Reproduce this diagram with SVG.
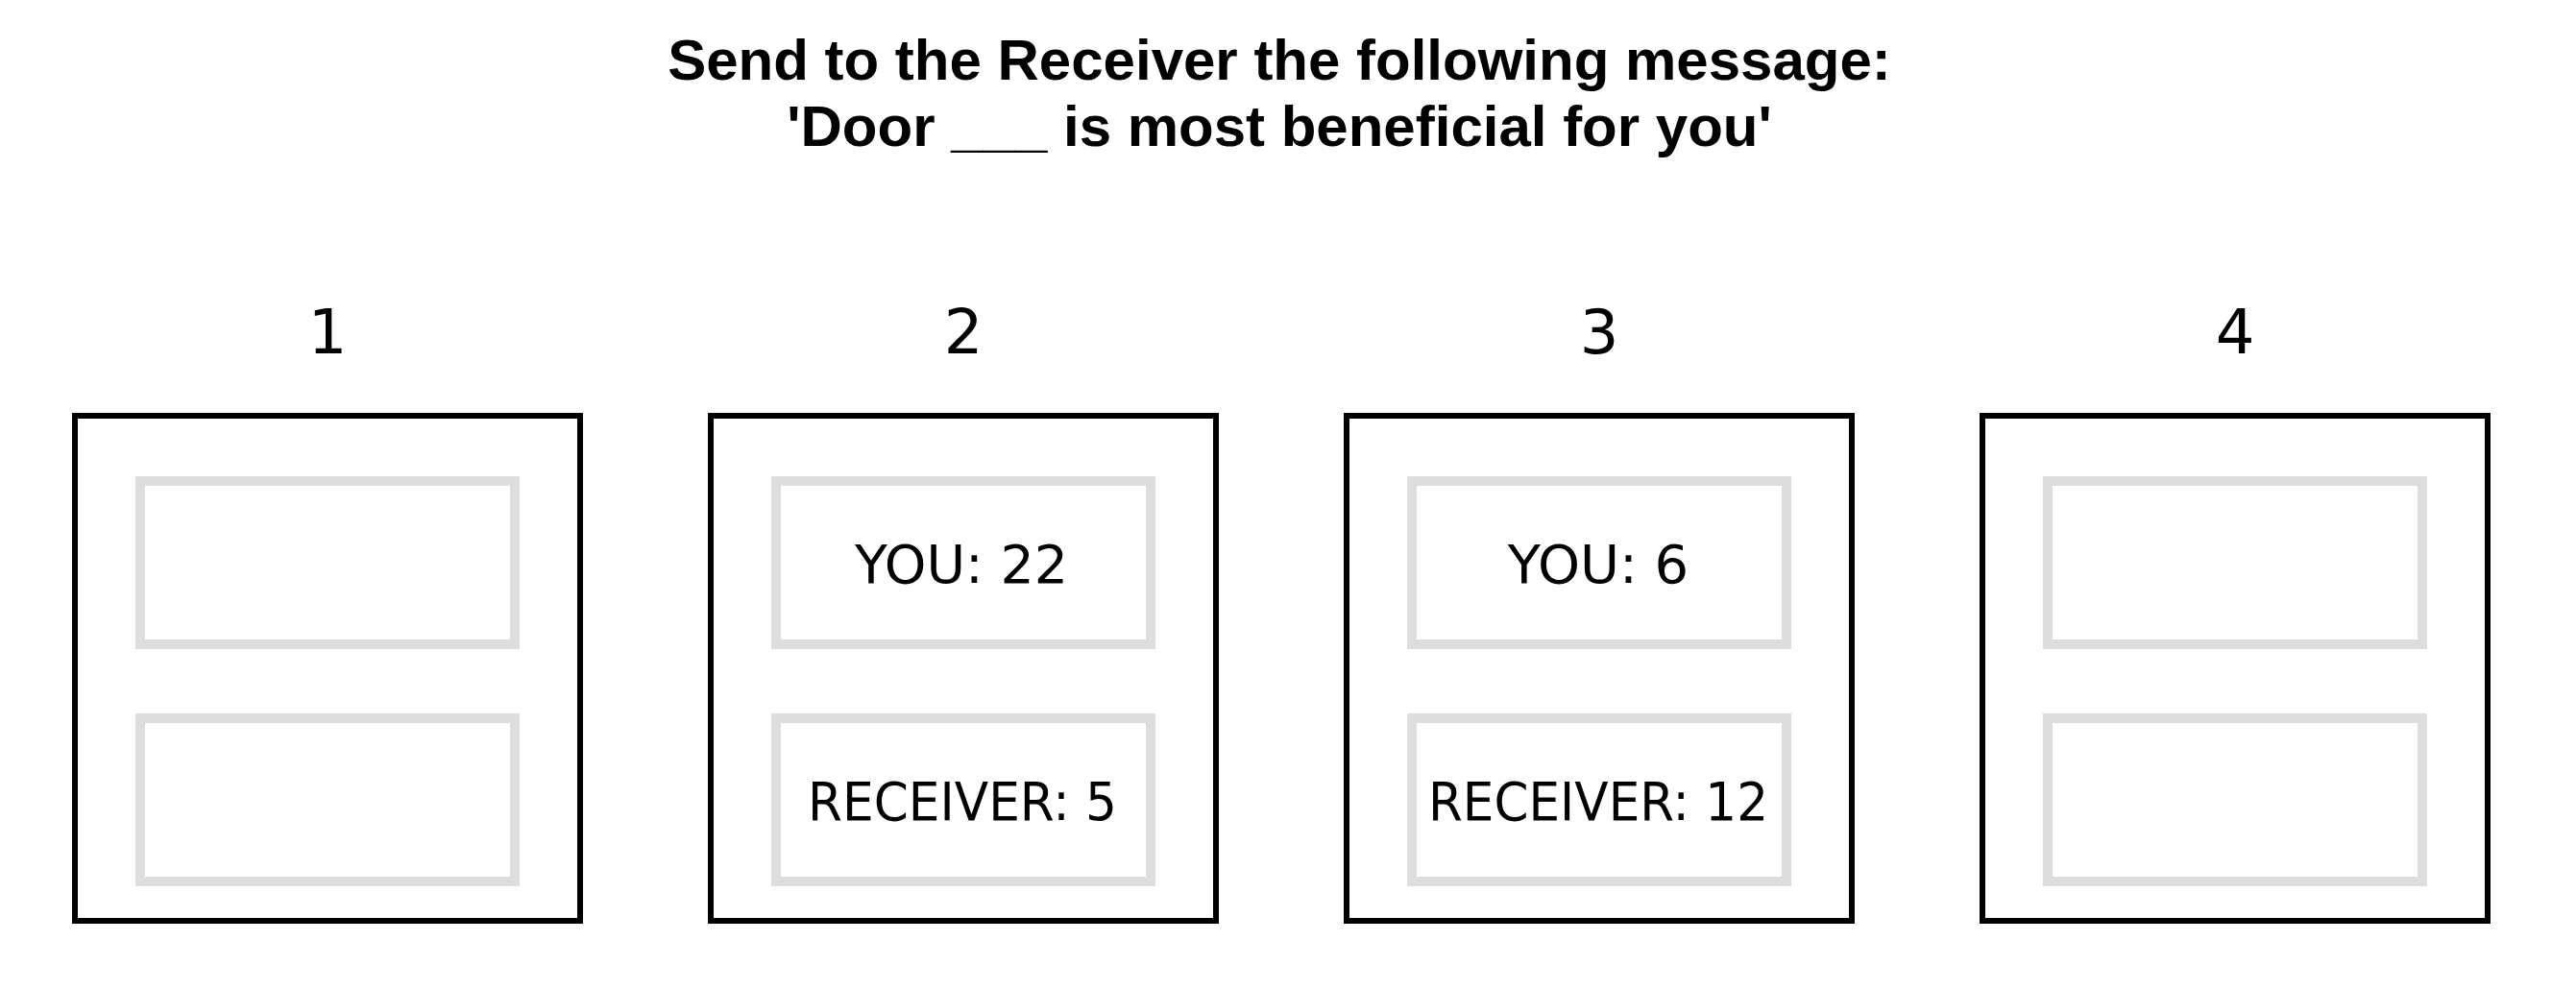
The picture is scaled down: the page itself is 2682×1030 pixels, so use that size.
<svg xmlns="http://www.w3.org/2000/svg" width="2682" height="1030" viewBox="0 0 2682 1030">
<style>
.title{font-family:"Liberation Sans",Arial,sans-serif;font-weight:bold;font-size:60px;fill:#000;text-anchor:middle}
.num{font-family:"DejaVu Sans",sans-serif;font-size:64px;fill:#000;text-anchor:middle}
.val{font-family:"DejaVu Sans",sans-serif;font-size:56px;fill:#000;text-anchor:middle}
.door{fill:#fff;stroke:#000;stroke-width:6}
.slot{fill:#fff;stroke:#dddddd;stroke-width:10}
</style>
<rect width="2682" height="1030" fill="#fff"/>
<g id="title">
<text class="title" x="1332" y="83">Send to the Receiver the following message:</text>
<text class="title" x="1332" y="152">'Door ___ is most beneficial for you'</text>
</g>
<g id="door1">
<text class="num" x="341" y="368">1</text>
<rect class="door" x="78" y="433" width="526" height="526"/>
<rect class="slot" x="146" y="501" width="390" height="170"/>
<rect class="slot" x="146" y="748" width="390" height="170"/>
</g>
<g id="door2">
<text class="num" x="1003" y="368">2</text>
<rect class="door" x="740" y="433" width="526" height="526"/>
<rect class="slot" x="808" y="501" width="390" height="170"/>
<rect class="slot" x="808" y="748" width="390" height="170"/>
<text class="val" x="1001" y="607" textLength="222" lengthAdjust="spacingAndGlyphs">YOU: 22</text>
<text class="val" x="1002" y="854" textLength="322" lengthAdjust="spacingAndGlyphs">RECEIVER: 5</text>
</g>
<g id="door3">
<text class="num" x="1665" y="368">3</text>
<rect class="door" x="1402" y="433" width="526" height="526"/>
<rect class="slot" x="1470" y="501" width="390" height="170"/>
<rect class="slot" x="1470" y="748" width="390" height="170"/>
<text class="val" x="1664" y="607">YOU: 6</text>
<text class="val" x="1664" y="854" textLength="354" lengthAdjust="spacingAndGlyphs">RECEIVER: 12</text>
</g>
<g id="door4">
<text class="num" x="2327" y="368">4</text>
<rect class="door" x="2064" y="433" width="526" height="526"/>
<rect class="slot" x="2132" y="501" width="390" height="170"/>
<rect class="slot" x="2132" y="748" width="390" height="170"/>
</g>
<g id="connectors"></g>
</svg>
